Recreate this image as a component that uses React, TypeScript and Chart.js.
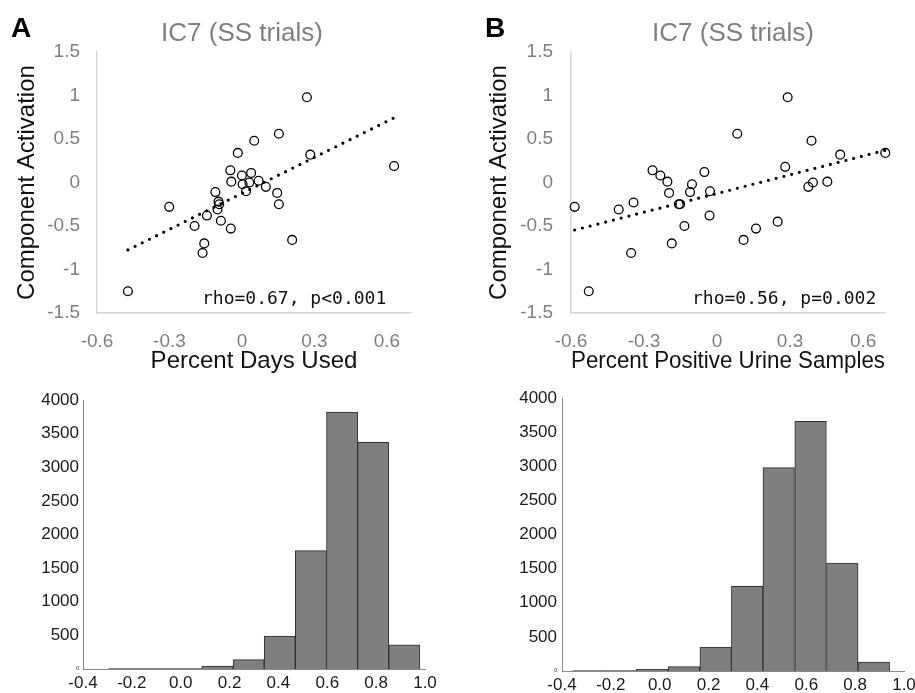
import React, { useEffect, useRef } from 'react';
import { Chart, registerables } from 'chart.js';

Chart.register(...registerables);

// ---------- Panel A scatter: Percent Days Used ----------
const daysUsedX = [-0.472, -0.301, -0.196, -0.156, -0.163, -0.145, -0.110, -0.097, -0.101, -0.094, -0.087, -0.048, -0.044, -0.046, -0.017, 0.000, 0.003, 0.017, 0.031, 0.038, 0.051, 0.069, 0.099, 0.146, 0.153, 0.153, 0.208, 0.269, 0.283, 0.630];
const activationA = [-1.25, -0.28, -0.50, -0.70, -0.81, -0.38, -0.11, -0.22, -0.31, -0.25, -0.44, 0.14, 0.01, -0.53, 0.34, 0.08, -0.02, -0.10, 0.00, 0.11, 0.48, 0.02, -0.05, -0.12, -0.25, 0.56, -0.66, 0.98, 0.32, 0.19];
const trendAX = [-0.472, 0.630];
const trendAY = [-0.775, 0.744];

// ---------- Panel B scatter: Percent Positive Urine Samples ----------
const urineX = [-0.585, -0.527, -0.404, -0.343, -0.353, -0.265, -0.233, -0.204, -0.197, -0.157, -0.152, -0.186, -0.134, -0.111, -0.103, -0.052, -0.029, -0.031, 0.083, 0.109, 0.160, 0.249, 0.280, 0.290, 0.375, 0.394, 0.388, 0.453, 0.506, 0.691];
const activationB = [-0.28, -1.25, -0.31, -0.23, -0.81, 0.14, 0.08, 0.01, -0.12, -0.25, -0.25, -0.70, -0.50, -0.11, -0.02, 0.12, -0.10, -0.38, 0.56, -0.66, -0.53, -0.45, 0.18, 0.98, -0.05, 0.00, 0.48, 0.01, 0.32, 0.34];
const trendBX = [-0.585, 0.691];
const trendBY = [-0.546, 0.37];

const scatterXTicks = [-0.6, -0.3, 0, 0.3, 0.6];
const scatterYTicks = [-1.5, -1, -0.5, 0, 0.5, 1, 1.5];

// ---------- Histograms ----------
const binEdgesA = [-0.296, -0.168, -0.041, 0.087, 0.214, 0.342, 0.469, 0.597, 0.724, 0.852, 0.979];
const countsA = [6, 6, 8, 45, 140, 490, 1760, 3820, 3370, 360];
const binEdgesB = [-0.356, -0.226, -0.096, 0.034, 0.164, 0.294, 0.422, 0.552, 0.683, 0.812, 0.941];
const countsB = [6, 6, 25, 65, 350, 1240, 2980, 3660, 1580, 130];
const histXTicks = [-0.4, -0.2, 0.0, 0.2, 0.4, 0.6, 0.8, 1.0];
const histYTicks = [0, 500, 1000, 1500, 2000, 2500, 3000, 3500, 4000];

const SANS = '"Liberation Sans", Arial, sans-serif';
const MONO = '"DejaVu Sans Mono", monospace';

type TextItem = { text: string; x: number; y: number; font: string; color: string; align?: CanvasTextAlign };

function makeOverlay(items: TextItem[]) {
  return {
    id: 'textOverlay',
    afterDraw(chart: any) {
      const ctx = chart.ctx as CanvasRenderingContext2D;
      items.forEach((it) => {
        ctx.save();
        ctx.font = it.font;
        ctx.fillStyle = it.color;
        ctx.textAlign = it.align || 'center';
        ctx.textBaseline = 'alphabetic';
        ctx.fillText(it.text, it.x, it.y);
        ctx.restore();
      });
    },
  };
}

function fixedTicks(vals: number[]) {
  return (scale: any) => {
    scale.ticks = vals.map((v) => ({ value: v }));
  };
}

function scatterConfig(p: any) {
  const pts = p.xs.map((x: number, i: number) => ({ x, y: p.ys[i] }));
  const trend = p.tx.map((x: number, i: number) => ({ x, y: p.ty[i] }));
  return {
    type: 'scatter',
    data: {
      datasets: [
        {
          type: 'line',
          data: trend,
          borderColor: '#000',
          borderWidth: 3.2,
          borderDash: [0, 8],
          borderCapStyle: 'round',
          pointRadius: 0,
          fill: false,
          clip: false,
          order: 2,
        },
        {
          type: 'scatter',
          data: pts,
          pointRadius: 4.4,
          pointStyle: 'circle',
          backgroundColor: 'rgba(0,0,0,0)',
          borderColor: '#000',
          borderWidth: 1.3,
          clip: false,
          order: 1,
        },
      ],
    },
    options: {
      animation: false,
      responsive: false,
      devicePixelRatio: 1,
      events: [],
      layout: { padding: { left: 0, top: 52, right: p.padRight, bottom: 0 } },
      plugins: { legend: { display: false }, tooltip: { enabled: false }, title: { display: false } },
      scales: {
        x: {
          type: 'linear',
          min: -0.6,
          max: p.xMax,
          afterBuildTicks: fixedTicks(scatterXTicks),
          afterFit: (s: any) => {
            s.height = 67;
            s.paddingLeft = 0;
            s.paddingRight = 0;
          },
          grid: { display: false, drawTicks: false },
          border: { display: true, color: '#d6d6d6', width: 1.5 },
          ticks: {
            autoSkip: false,
            maxRotation: 0,
            minRotation: 0,
            padding: 17,
            color: '#7f7f7f',
            font: { family: SANS, size: 19 },
            callback: (v: any) => String(v),
          },
          title: {
            display: true,
            text: p.xTitle,
            color: '#111',
            font: { family: SANS, size: 24 },
            padding: { top: 0, bottom: 4 },
          },
        },
        y: {
          type: 'linear',
          min: -1.5,
          max: 1.5,
          afterBuildTicks: fixedTicks(scatterYTicks),
          afterFit: (s: any) => {
            s.width = p.yWidth;
          },
          grid: { display: false, drawTicks: false },
          border: { display: true, color: '#d6d6d6', width: 1.5 },
          ticks: {
            autoSkip: false,
            padding: p.yTickPad,
            color: '#7f7f7f',
            font: { family: SANS, size: 19 },
            callback: (v: any) => String(v),
          },
          title: {
            display: true,
            text: 'Component Activation',
            color: '#111',
            font: { family: SANS, size: 24 },
            padding: { top: p.yTitlePad, bottom: 0 },
          },
        },
      },
    },
    plugins: [makeOverlay(p.texts)],
  };
}

function histConfig(p: any) {
  const centers = p.edges.slice(0, -1).map((e: number, i: number) => (e + p.edges[i + 1]) / 2);
  const data = centers.map((c: number, i: number) => ({ x: c, y: p.counts[i] }));
  return {
    type: 'bar',
    data: {
      datasets: [
        {
          data,
          backgroundColor: '#7f7f7f',
          borderColor: '#2e2e2e',
          borderWidth: 1,
          borderSkipped: 'start',
          barPercentage: 1,
          categoryPercentage: 1,
        },
      ],
    },
    options: {
      animation: false,
      responsive: false,
      devicePixelRatio: 1,
      events: [],
      layout: { padding: { left: 0, top: p.padTop, right: p.padRight, bottom: 0 } },
      plugins: { legend: { display: false }, tooltip: { enabled: false } },
      scales: {
        x: {
          type: 'linear',
          min: -0.4,
          max: 1.0,
          offset: false,
          afterBuildTicks: fixedTicks(histXTicks),
          afterFit: (s: any) => {
            s.height = p.xHeight;
            s.paddingLeft = 0;
            s.paddingRight = 0;
          },
          grid: { display: false, offset: false, drawTicks: false },
          border: { display: true, color: '#8a8a8a', width: 1 },
          ticks: {
            autoSkip: false,
            maxRotation: 0,
            minRotation: 0,
            padding: 4,
            color: '#1a1a1a',
            font: { family: SANS, size: 17 },
            callback: (v: any) => Number(v).toFixed(1),
          },
        },
        y: {
          type: 'linear',
          min: 0,
          max: 4000,
          afterBuildTicks: fixedTicks(histYTicks),
          afterFit: (s: any) => {
            s.width = p.yWidth;
            s.paddingTop = 0;
            s.paddingBottom = 0;
          },
          grid: { display: false, drawTicks: false },
          border: { display: true, color: '#8a8a8a', width: 1 },
          ticks: {
            autoSkip: false,
            padding: p.yTickPad,
            color: '#1a1a1a',
            font: (ctx: any) => ({ family: SANS, size: ctx.tick && ctx.tick.value === 0 ? 5 : 17 }),
            callback: (v: any) => String(v),
          },
        },
      },
    },
  };
}

function ChartBox({ left, top, width, height, make }: any) {
  const ref = useRef<HTMLCanvasElement | null>(null);
  useEffect(() => {
    const chart = new Chart(ref.current as HTMLCanvasElement, make());
    return () => chart.destroy();
  }, []);
  return (
    <canvas
      ref={ref}
      width={width}
      height={height}
      style={{ position: 'absolute', left, top, width, height }}
    />
  );
}

export default function App() {
  const scatterA = () =>
    scatterConfig({
      xs: daysUsedX,
      ys: activationA,
      tx: trendAX,
      ty: trendAY,
      xMax: 0.7,
      padRight: 44,
      yWidth: 97,
      yTickPad: 17,
      yTitlePad: 13,
      xTitle: 'Percent Days Used',
      texts: [
        { text: 'A', x: 11, y: 37, font: `bold 28px ${SANS}`, color: '#000', align: 'left' },
        { text: 'IC7 (SS trials)', x: 242, y: 41, font: `26px ${SANS}`, color: '#7f7f7f' },
        { text: 'rho=0.67, p<0.001', x: 202, y: 304, font: `18px ${MONO}`, color: '#111', align: 'left' },
      ],
    });
  const scatterB = () =>
    scatterConfig({
      xs: urineX,
      ys: activationB,
      tx: trendBX,
      ty: trendBY,
      xMax: 0.69,
      padRight: 30,
      yWidth: 116,
      yTickPad: 18,
      yTitlePad: 30,
      xTitle: 'Percent Positive Urine Samples',
      texts: [
        { text: 'B', x: 30, y: 37, font: `bold 28px ${SANS}`, color: '#000', align: 'left' },
        { text: 'IC7 (SS trials)', x: 278, y: 41, font: `26px ${SANS}`, color: '#7f7f7f' },
        { text: 'rho=0.56, p=0.002', x: 237, y: 304, font: `18px ${MONO}`, color: '#111', align: 'left' },
      ],
    });
  const histA = () =>
    histConfig({ edges: binEdgesA, counts: countsA, padTop: 20, padRight: 30, xHeight: 24, yWidth: 83, yTickPad: 4 });
  const histB = () =>
    histConfig({ edges: binEdgesB, counts: countsB, padTop: 18, padRight: 11, xHeight: 22, yWidth: 107, yTickPad: 5 });

  return (
    <div style={{ position: 'absolute', left: 0, top: 0, width: 915, height: 693, background: '#fff', overflow: 'hidden' }}>
      <ChartBox left={0} top={0} width={455} height={380} make={scatterA} />
      <ChartBox left={455} top={0} width={460} height={380} make={scatterB} />
      <ChartBox left={0} top={380} width={455} height={313} make={histA} />
      <ChartBox left={455} top={380} width={460} height={313} make={histB} />
    </div>
  );
}
